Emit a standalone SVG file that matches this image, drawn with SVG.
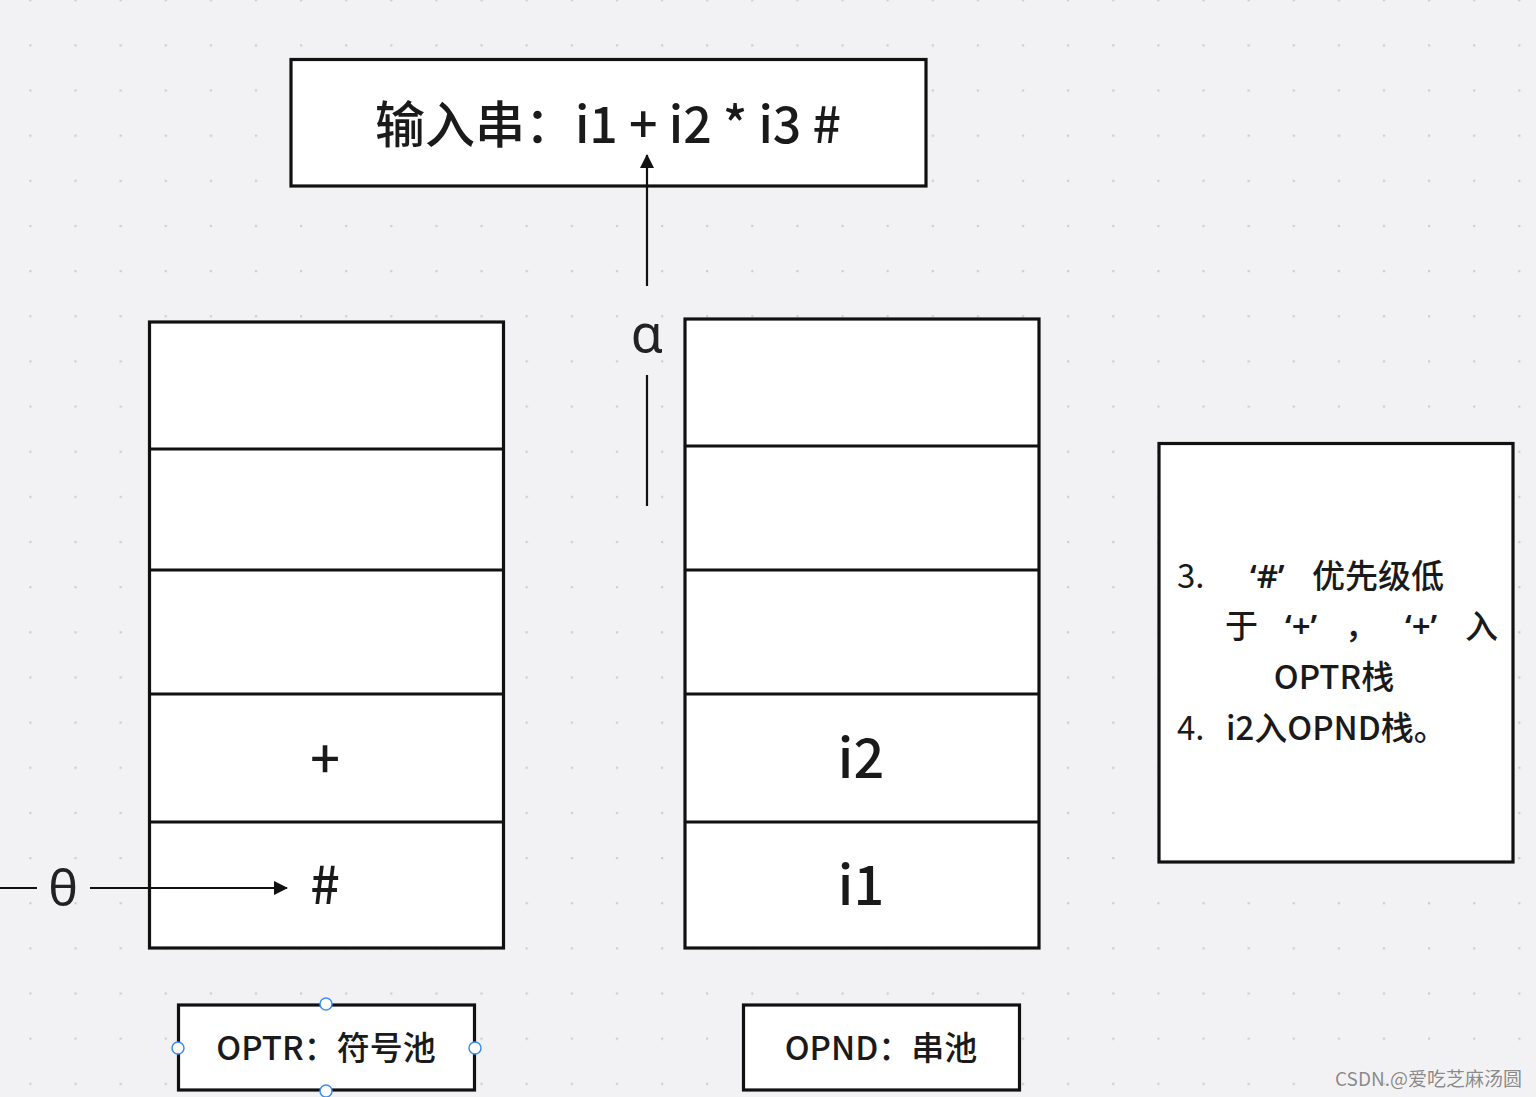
<svg xmlns="http://www.w3.org/2000/svg" width="1536" height="1097" viewBox="0 0 1536 1097">
<defs>
<pattern id="dots" patternUnits="userSpaceOnUse" x="29.3" y="44.3" width="45.12" height="45.15">
<rect x="0" y="0" width="2.2" height="2.2" fill="#cdcdd2"/>
</pattern>
<marker id="arr" viewBox="0 0 14 14" refX="13" refY="7" markerWidth="14" markerHeight="14" markerUnits="userSpaceOnUse" orient="auto">
<path d="M0,0 L14,7 L0,14 Z" fill="#111"/>
</marker>
<style>
.box{fill:#fff;stroke:#111;stroke-width:3.2}
.div{stroke:#111;stroke-width:3;fill:none}
.cn{font-family:"Noto Sans CJK SC","Noto Sans",sans-serif;fill:#1a1a1a;font-weight:500}
.gr{font-family:"Noto Sans","DejaVu Sans",sans-serif;fill:#222;font-weight:400}
.q{font-family:"Noto Sans","Noto Sans CJK SC",sans-serif;font-weight:600}
.line{stroke:#111;stroke-width:2.2;fill:none}
.h{fill:#fff;stroke:#3d8ef0;stroke-width:1.5}
</style>
</defs>
<rect x="0" y="0" width="1536" height="1097" fill="#f2f2f4"/>
<rect x="0" y="0" width="1536" height="1097" fill="url(#dots)"/>

<g id="input-box">
<rect class="box" x="291" y="59.5" width="635" height="126.5"/>
<text class="cn" x="608" y="143" font-size="50" text-anchor="middle" font-weight="600">输入串：i1 + i2 * i3 #</text>
</g>

<g id="optr-stack">
<rect class="box" x="149.5" y="322" width="354" height="626"/>
<line class="div" x1="149.5" y1="449" x2="503.5" y2="449"/>
<line class="div" x1="149.5" y1="570" x2="503.5" y2="570"/>
<line class="div" x1="149.5" y1="694" x2="503.5" y2="694"/>
<line class="div" x1="149.5" y1="822" x2="503.5" y2="822"/>
<text class="cn" x="325" y="778" font-size="52" text-anchor="middle">+</text>
<text class="cn" x="325" y="904" font-size="52" text-anchor="middle">#</text>
</g>

<g id="opnd-stack">
<rect class="box" x="685" y="319" width="354" height="629"/>
<line class="div" x1="685" y1="446" x2="1039" y2="446"/>
<line class="div" x1="685" y1="570" x2="1039" y2="570"/>
<line class="div" x1="685" y1="694" x2="1039" y2="694"/>
<line class="div" x1="685" y1="822" x2="1039" y2="822"/>
<text class="cn" x="861" y="778" font-size="54" text-anchor="middle">i2</text>
<text class="cn" x="861" y="905" font-size="54" text-anchor="middle">i1</text>
</g>

<g id="note-box">
<rect class="box" x="1159" y="443.5" width="354" height="418.5"/>
<text class="cn" font-size="33" y="588"><tspan x="1177" font-weight="400">3.</tspan><tspan x="1250" class="q">‘#’</tspan><tspan x="1312">优先级低</tspan></text>
<text class="cn" font-size="33" y="638"><tspan x="1225">于</tspan><tspan x="1285" class="q">‘+’</tspan><tspan x="1345">，</tspan><tspan x="1405" class="q">‘+’</tspan><tspan x="1465">入</tspan></text>
<text class="cn" font-size="33" y="689" x="1334" text-anchor="middle">OPTR栈</text>
<text class="cn" font-size="33" y="740"><tspan x="1177" font-weight="400">4.</tspan><tspan x="1226">i2入OPND栈。</tspan></text>
</g>

<g id="optr-label">
<rect class="box" x="178.5" y="1005" width="296" height="85"/>
<text class="cn" x="326" y="1060" font-size="33" text-anchor="middle">OPTR：符号池</text>
<circle class="h" cx="326" cy="1004" r="6"/>
<circle class="h" cx="178" cy="1048" r="6"/>
<circle class="h" cx="475" cy="1048" r="6"/>
<circle class="h" cx="326" cy="1091" r="6"/>
</g>

<g id="opnd-label">
<rect class="box" x="743.5" y="1005" width="276" height="85"/>
<text class="cn" x="881" y="1060" font-size="33" text-anchor="middle">OPND：串池</text>
</g>

<g id="alpha-label">
<text class="gr" x="647" y="352" font-size="52" text-anchor="middle">α</text>
</g>
<g id="theta-label">
<text class="gr" x="63" y="906" font-size="50" text-anchor="middle">θ</text>
</g>

<g id="connectors">
<line class="line" x1="647" y1="286" x2="647" y2="155" marker-end="url(#arr)"/>
<line class="line" x1="647" y1="375" x2="647" y2="506"/>
<line class="line" x1="0" y1="888" x2="37" y2="888"/>
<line class="line" x1="90" y1="888" x2="287" y2="888" marker-end="url(#arr)"/>
</g>

<text x="1522" y="1086" font-size="19" text-anchor="end" font-family="'Noto Sans CJK SC','Noto Sans',sans-serif" fill="#8a8a8a" stroke="#ffffff" stroke-width="0.6" paint-order="stroke">CSDN.@爱吃芝麻汤圆</text>
</svg>
